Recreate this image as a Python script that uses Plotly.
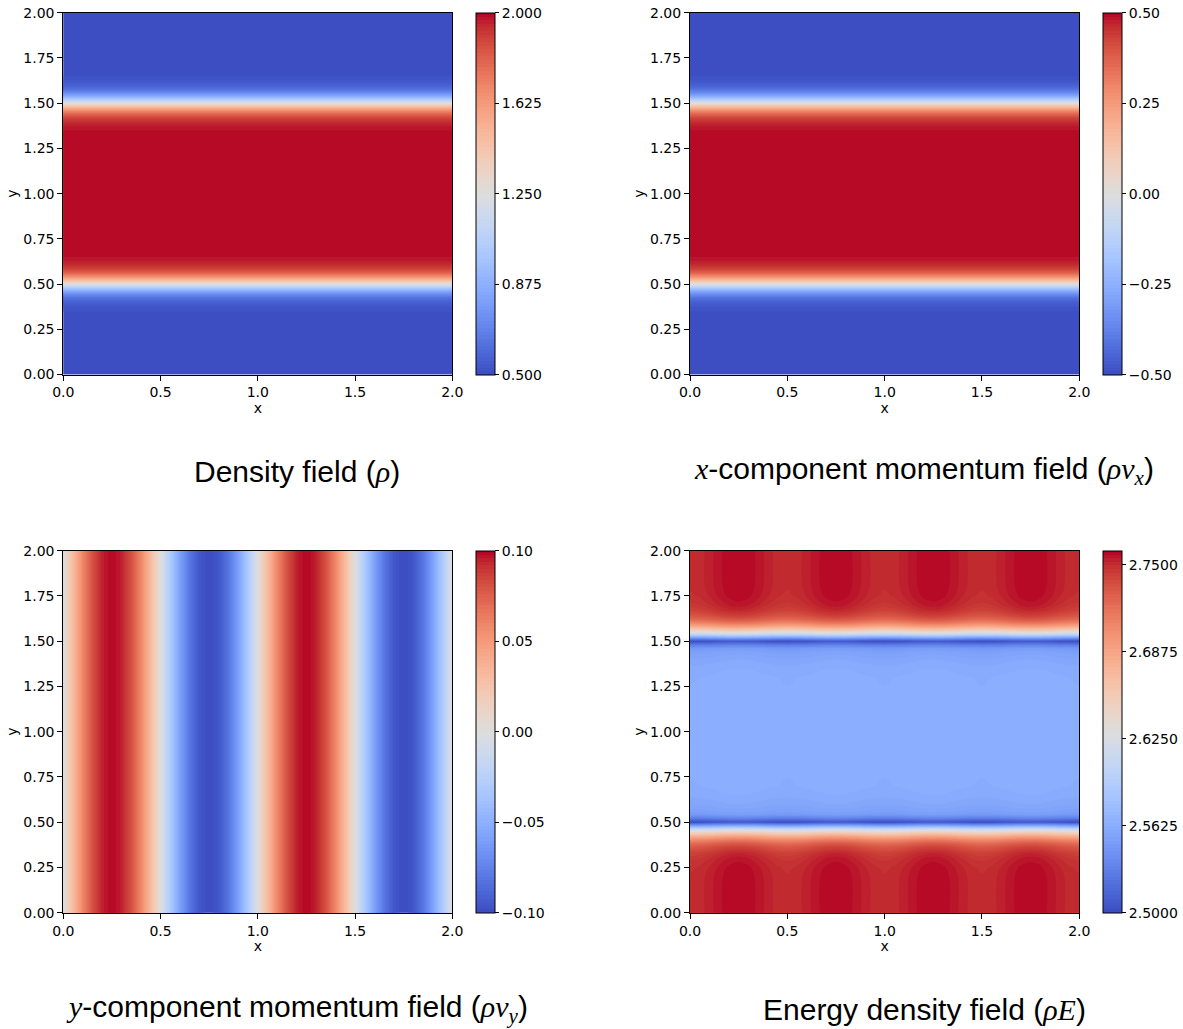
import plotly.graph_objects as go

W, H = 1183, 1029

# ---- data -------------------------------------------------------------
# density profile across y (uniform in x)
rho_y = [0.00, 0.25, 0.30, 0.32, 0.34, 0.36, 0.38, 0.40, 0.42, 0.44, 0.46, 0.48, 0.50,
         0.52, 0.54, 0.56, 0.58, 0.60, 0.62, 0.64, 0.66, 0.68, 0.70, 0.75, 1.00,
         1.25, 1.30, 1.32, 1.34, 1.36, 1.38, 1.40, 1.42, 1.44, 1.46, 1.48, 1.50,
         1.52, 1.54, 1.56, 1.58, 1.60, 1.62, 1.64, 1.66, 1.68, 1.70, 1.75, 2.00]
rho_vals = [0.500, 0.501, 0.503, 0.506, 0.511, 0.520, 0.537, 0.566, 0.618, 0.705, 0.839, 1.026, 1.250,
            1.474, 1.661, 1.795, 1.882, 1.934, 1.963, 1.980, 1.989, 1.994, 1.997, 1.999, 2.000,
            1.999, 1.997, 1.994, 1.989, 1.980, 1.963, 1.934, 1.882, 1.795, 1.661, 1.474, 1.250,
            1.026, 0.839, 0.705, 0.618, 0.566, 0.537, 0.520, 0.511, 0.506, 0.503, 0.501, 0.500]

# x-momentum profile across y (uniform in x)
mx_vals = [-0.500, -0.4995, -0.498, -0.496, -0.493, -0.487, -0.476, -0.456, -0.421, -0.363, -0.274, -0.149, 0.000,
           0.149, 0.274, 0.363, 0.421, 0.456, 0.476, 0.487, 0.493, 0.496, 0.498, 0.4995, 0.500,
           0.4995, 0.498, 0.496, 0.493, 0.487, 0.476, 0.456, 0.421, 0.363, 0.274, 0.149, 0.000,
           -0.149, -0.274, -0.363, -0.421, -0.456, -0.476, -0.487, -0.493, -0.496, -0.498, -0.4995, -0.500]

# y-momentum profile across x (uniform in y)
my_x = [0.00, 0.05, 0.10, 0.15, 0.20, 0.25, 0.30, 0.35, 0.40, 0.45,
        0.50, 0.55, 0.60, 0.65, 0.70, 0.75, 0.80, 0.85, 0.90, 0.95,
        1.00, 1.05, 1.10, 1.15, 1.20, 1.25, 1.30, 1.35, 1.40, 1.45,
        1.50, 1.55, 1.60, 1.65, 1.70, 1.75, 1.80, 1.85, 1.90, 1.95, 2.00]
my_vals = [0.0000, 0.0309, 0.0588, 0.0809, 0.0951, 0.1000, 0.0951, 0.0809, 0.0588, 0.0309,
           0.0000, -0.0309, -0.0588, -0.0809, -0.0951, -0.1000, -0.0951, -0.0809, -0.0588, -0.0309,
           0.0000, 0.0309, 0.0588, 0.0809, 0.0951, 0.1000, 0.0951, 0.0809, 0.0588, 0.0309,
           0.0000, -0.0309, -0.0588, -0.0809, -0.0951, -0.1000, -0.0951, -0.0809, -0.0588, -0.0309,
           0.0000]

# energy density: background profile across y plus the extra amount
# reached where |rho v_y| peaks
en_y = [0.00, 0.20, 0.25, 0.28, 0.30, 0.33, 0.36, 0.38, 0.40, 0.42, 0.44, 0.46,
        0.48, 0.50, 0.52, 0.54, 0.56, 0.60, 0.64, 0.70, 0.80, 1.00,
        1.20, 1.30, 1.36, 1.40, 1.44, 1.46, 1.48, 1.50, 1.52, 1.54, 1.56, 1.58,
        1.60, 1.62, 1.64, 1.67, 1.70, 1.72, 1.75, 1.80, 2.00]
en_base = [2.7500, 2.7499, 2.7490, 2.7474, 2.7460, 2.7420, 2.7330, 2.7230, 2.7060, 2.6820, 2.6500, 2.6080,
           2.5520, 2.5000, 2.5280, 2.5470, 2.5530, 2.5575, 2.5600, 2.5622, 2.5626, 2.5626,
           2.5626, 2.5622, 2.5600, 2.5575, 2.5530, 2.5470, 2.5280, 2.5000, 2.5520, 2.6080, 2.6500, 2.6820,
           2.7060, 2.7230, 2.7330, 2.7420, 2.7460, 2.7474, 2.7490, 2.7499, 2.7500]
en_swing = [0.0100, 0.0100, 0.0100, 0.0100, 0.0100, 0.0100, 0.0100, 0.0100, 0.0100, 0.0099, 0.0097, 0.0092,
            0.0080, 0.0063, 0.0045, 0.0035, 0.0028, 0.0023, 0.0020, 0.0020, 0.0020, 0.0020,
            0.0020, 0.0020, 0.0020, 0.0023, 0.0028, 0.0035, 0.0045, 0.0063, 0.0080, 0.0092, 0.0097, 0.0099,
            0.0100, 0.0100, 0.0100, 0.0100, 0.0100, 0.0100, 0.0100, 0.0100, 0.0100]

x_edges = [0.0, 2.0]
y_edges = [0.0, 2.0]

# ---- grids ------------------------------------------------------------
z_rho = [[v, v] for v in rho_vals]
z_mx = [[v, v] for v in mx_vals]
z_my = [my_vals, my_vals]
my_peak = max(abs(v) for v in my_vals)
z_en = [[b + s * (m / my_peak) ** 2 for m in my_vals] for b, s in zip(en_base, en_swing)]

# ---- colour map ---------------------------------------------------------
cw = [(59, 76, 192), (68, 90, 204), (77, 104, 215), (87, 117, 225), (98, 130, 234),
      (108, 142, 241), (119, 154, 247), (130, 165, 251), (141, 176, 254), (152, 185, 255),
      (163, 194, 255), (174, 201, 253), (184, 208, 249), (194, 213, 244), (204, 217, 238),
      (213, 219, 230), (221, 221, 221), (229, 216, 209), (236, 211, 197), (241, 204, 184),
      (245, 196, 172), (247, 187, 160), (247, 177, 148), (247, 166, 135), (244, 154, 123),
      (241, 141, 111), (236, 127, 99), (229, 112, 88), (222, 96, 77), (213, 80, 66),
      (203, 62, 56), (192, 40, 47), (180, 4, 38)]
coolwarm = [[i / (len(cw) - 1), "rgb(%d,%d,%d)" % c] for i, c in enumerate(cw)]

# ---- layout geometry (pixels) ---------------------------------------------
cols = [(63.3, 452.3, 476.0), (690.0, 1079.3, 1103.3)]
rows = [(12.7, 374.5), (550.7, 912.7)]
cb_w = 18.5

tick_font = dict(family="DejaVu Sans", size=14, color="black")

panels = [
    dict(x=x_edges, y=rho_y, z=z_rho, lo=0.5, hi=2.0,
         tv=[0.5, 0.875, 1.25, 1.625, 2.0], tt=["0.500", "0.875", "1.250", "1.625", "2.000"]),
    dict(x=x_edges, y=rho_y, z=z_mx, lo=-0.5, hi=0.5,
         tv=[-0.5, -0.25, 0.0, 0.25, 0.5], tt=["\u22120.50", "\u22120.25", "0.00", "0.25", "0.50"]),
    dict(x=my_x, y=y_edges, z=z_my, lo=-0.1, hi=0.1,
         tv=[-0.1, -0.05, 0.0, 0.05, 0.1], tt=["\u22120.10", "\u22120.05", "0.00", "0.05", "0.10"]),
    dict(x=my_x, y=en_y, z=z_en, lo=2.5, hi=2.76,
         tv=[2.5, 2.5625, 2.625, 2.6875, 2.75], tt=["2.5000", "2.5625", "2.6250", "2.6875", "2.7500"]),
]

fig = go.Figure()
layout = {}
for k, p in enumerate(panels):
    r, c = divmod(k, 2)
    x0, x1, cbx = cols[c]
    top, bot = rows[r]
    dom_x = [x0 / W, x1 / W]
    dom_y = [1 - bot / H, 1 - top / H]
    n = k + 1
    xa = "x" if n == 1 else "x%d" % n
    ya = "y" if n == 1 else "y%d" % n
    nlev = 100
    fig.add_trace(go.Contour(
        x=p["x"], y=p["y"], z=p["z"],
        xaxis=xa, yaxis=ya,
        colorscale=coolwarm, zmin=p["lo"], zmax=p["hi"],
        autocontour=False,
        contours=dict(start=p["lo"], end=p["hi"], size=(p["hi"] - p["lo"]) / nlev,
                      coloring="fill", showlines=False),
        line=dict(width=0),
        colorbar=dict(
            x=cbx / W, xanchor="left", xpad=0, ypad=0,
            y=(dom_y[0] + dom_y[1]) / 2, yanchor="middle", len=dom_y[1] - dom_y[0],
            lenmode="fraction", thickness=cb_w, thicknessmode="pixels",
            outlinewidth=1, outlinecolor="black",
            ticks="outside", ticklen=4, tickwidth=1, tickcolor="black",
            tickvals=p["tv"], ticktext=p["tt"], tickfont=tick_font,
        ),
        hoverinfo="skip",
    ))
    axis_common = dict(showline=True, linecolor="black", linewidth=1, mirror=True,
                       ticks="outside", ticklen=5, tickwidth=1, tickcolor="black",
                       showgrid=False, zeroline=False, tickfont=tick_font, automargin=False)
    layout["xaxis" if n == 1 else "xaxis%d" % n] = dict(
        domain=dom_x, anchor=ya, range=[0, 2],
        tickvals=[0, 0.5, 1.0, 1.5, 2.0], ticktext=["0.0", "0.5", "1.0", "1.5", "2.0"],
        title=dict(text="x", font=tick_font, standoff=2), **axis_common)
    layout["yaxis" if n == 1 else "yaxis%d" % n] = dict(
        domain=dom_y, anchor=xa, range=[0, 2],
        tickvals=[0, 0.25, 0.5, 0.75, 1.0, 1.25, 1.5, 1.75, 2.0],
        ticktext=["0.00", "0.25", "0.50", "0.75", "1.00", "1.25", "1.50", "1.75", "2.00"],
        title=dict(text="y", font=tick_font, standoff=2), **axis_common)

math = "font-family:'Liberation Serif'"
titles = [
    (297, 471, "Density field (<span style=\"%s\"><i>ρ</i></span>)" % math),
    (924, 471, "<span style=\"%s\"><i>x</i></span>-component momentum field "
               "(<span style=\"%s\"><i>ρv</i><sub><i>x</i></sub></span>)" % (math, math)),
    (297, 1009, "<span style=\"%s\"><i>y</i></span>-component momentum field "
                "(<span style=\"%s\"><i>ρv</i><sub><i>y</i></sub></span>)" % (math, math)),
    (924, 1009, "Energy density field (<span style=\"%s\"><i>ρE</i></span>)" % math),
]
annotations = [dict(x=px / W, y=1 - py / H, xref="paper", yref="paper",
                    xanchor="center", yanchor="middle", showarrow=False, text=t,
                    font=dict(family="Liberation Sans", size=30, color="black"))
               for px, py, t in titles]

fig.update_layout(
    width=W, height=H, margin=dict(l=0, r=0, t=0, b=0, autoexpand=False),
    paper_bgcolor="white", plot_bgcolor="white",
    showlegend=False, annotations=annotations, **layout,
)

fig.write_html("out.html")
